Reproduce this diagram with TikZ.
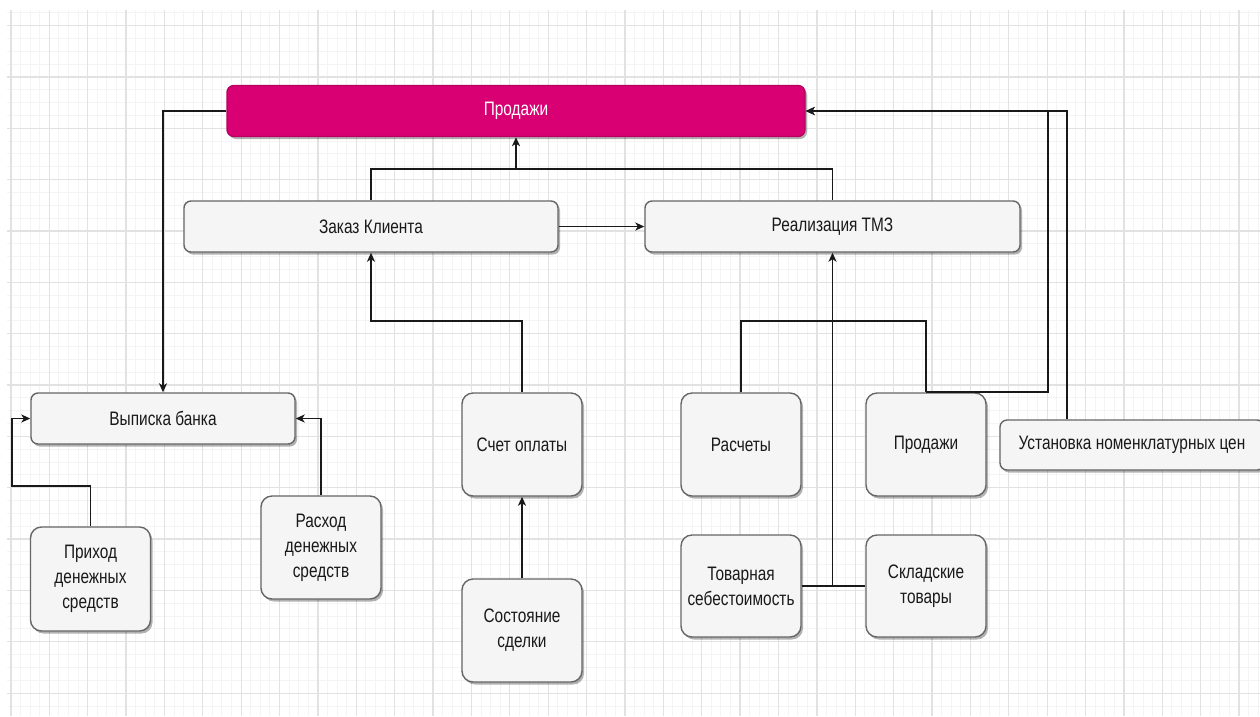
\documentclass[tikz,border=0pt]{standalone}
\usepackage{fontspec}
\setmainfont{Liberation Sans}[FakeStretch=0.79]
\usetikzlibrary{arrows.meta,shadows}
\definecolor{gridmajor}{HTML}{E2E2E2}
\definecolor{gridminor}{HTML}{F4F4F4}
\definecolor{boxfill}{HTML}{F5F5F5}
\definecolor{boxline}{HTML}{666666}
\definecolor{salesmagenta}{HTML}{D80073}
\begin{document}
\begin{tikzpicture}[x=1pt,y=-1pt,
  box/.style={draw=boxline, line width=1.4pt, fill=boxfill, rounded corners=7pt,
    inner sep=0pt, align=center, text=black!90, font=\fontsize{19.5}{25}\selectfont,
    drop shadow={shadow xshift=2pt, shadow yshift=-2.5pt, opacity=0.3, fill=black}},
  wide/.style={box, minimum height=51pt},
  tile/.style={box, minimum width=120pt, minimum height=103pt, rounded corners=11pt},
  link/.style={line width=1.8pt, draw=black!90},
  arr/.style={link, -{Stealth[length=9pt,width=8pt,inset=2.5pt]}}
]
\useasboundingbox (0,0) rectangle (1260,716);
\clip (0,0) rectangle (1260,716);
\fill[white] (0,0) rectangle (1260,716);

% background grid: fine lines, then every fourth line stronger
\foreach \k in {0,...,130}
  \draw[gridminor, line width=1pt] ({10.9+9.595*\k},10) -- ({10.9+9.595*\k},716);
\foreach \k in {0,...,54}
  \draw[gridminor, line width=1pt] (7,{12.66+12.84*\k}) -- (1260,{12.66+12.84*\k});
\foreach \k in {0,...,32}
  \draw[gridmajor, line width=1.3pt] ({10.9+38.38*\k},10) -- ({10.9+38.38*\k},716);
\foreach \k in {0,...,13}
  \draw[gridmajor, line width=1.3pt] (7,{25.5+51.36*\k}) -- (1260,{25.5+51.36*\k});

% blocks
\node[wide, minimum width=578pt, fill=salesmagenta, draw=salesmagenta!85!black, text=white] (P) at (516,111) {Продажи};
\node[wide, minimum width=374pt] (Z) at (371,226.5) {Заказ Клиента};
\node[wide, minimum width=375pt] (R) at (832.5,226.5) {Реализация ТМЗ};
\node[wide, minimum width=264pt] (V) at (163,418.5) {Выписка банка};
\node[tile, minimum height=104pt] (Pr) at (90.5,579) {Приход\\денежных\\средств};
\node[tile] (Ra) at (321,547.5) {Расход\\денежных\\средств};
\node[tile] (S) at (522,444.5) {Счет оплаты};
\node[tile] (Sd) at (522,630.5) {Состояние\\сделки};
\node[tile] (Rs) at (741,444.5) {Расчеты};
\node[tile, minimum height=102pt] (Tc) at (741,586) {Товарная\\себестоимость};
\node[tile] (Pd) at (926,444.5) {Продажи};
\node[tile, minimum height=102pt] (Sk) at (926,586) {Складские\\товары};
\node[wide, minimum width=264pt, minimum height=50pt] (U) at (1132,445) {Установка номенклатурных цен};

% junction points
\coordinate (j1) at (516,169);
\coordinate (j3) at (832.5,586);

% connectors
\draw[arr] (P.west) -| (V.north);
\draw[link] (Z.north) |- (j1) -| (R.north);
\draw[arr] (j1) -- (P.south);
\draw[arr] (Z.east) -- (R.west);
\draw[arr] (S.north) -- ++(0,-71) -| (Z.south);
\draw[arr] (Sd.north) -- (S.south);
\draw[link] (Tc.east) -- (Sk.west);
\draw[arr] (j3) -- (R.south);
\draw[link] (Rs.north) -- ++(0,-71) -| (Pd.north);
\draw[arr] (Pd.north) -- ++(122,0) |- (P.east);
\draw[arr] ([xshift=-65pt]U.north) |- (P.east);
\draw[arr] (Pr.north) |- (12,486) |- (V.west);
\draw[arr] (Ra.north) |- (V.east);
\end{tikzpicture}
\end{document}
